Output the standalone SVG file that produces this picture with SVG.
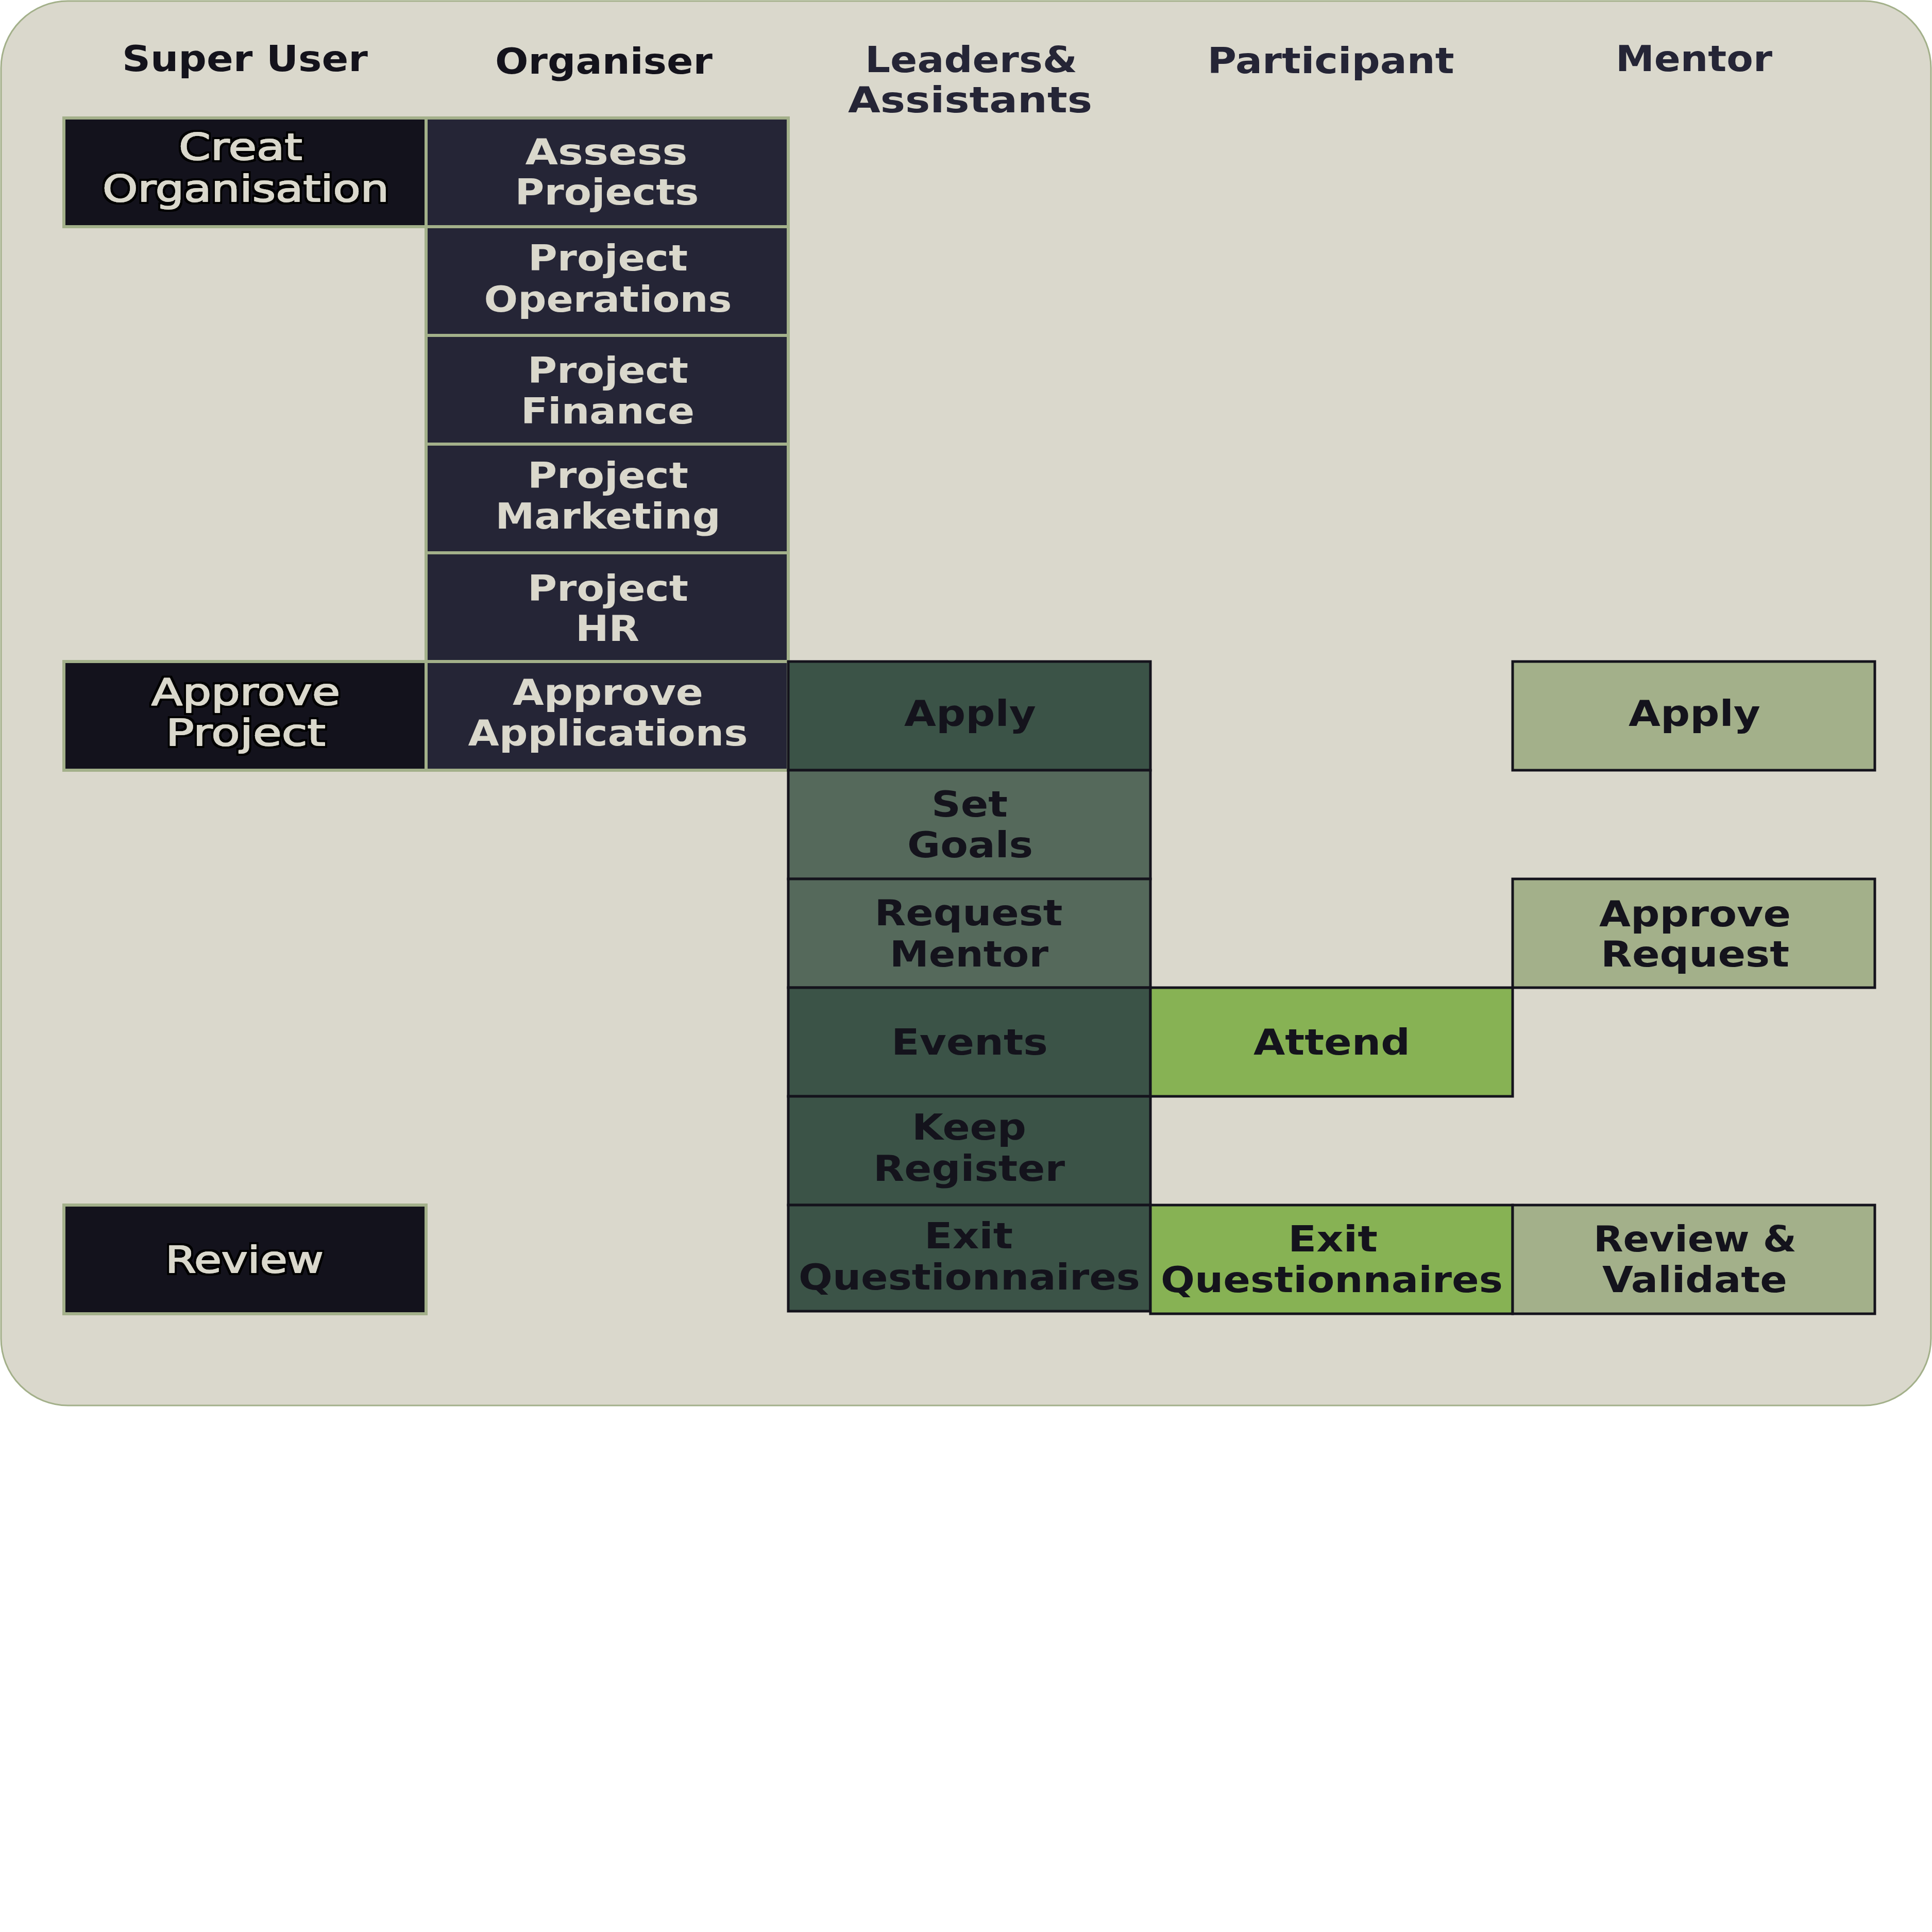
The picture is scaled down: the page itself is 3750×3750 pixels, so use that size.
<svg xmlns="http://www.w3.org/2000/svg" width="3750" height="3750" viewBox="0 0 3750 3750">
<style>
.hd{font-family:"DejaVu Sans","Liberation Sans",sans-serif;font-weight:bold;font-size:70px;text-anchor:middle}
.t{font-family:"DejaVu Sans","Liberation Sans",sans-serif;font-size:70px;text-anchor:middle}
.b{font-weight:bold}
.lt{fill:#dad8cc}
.dk{fill:#14131c}
.su{fill:#13121c;stroke:#a3b08a;stroke-width:6}
.org{fill:#252536;stroke:#a3b08a;stroke-width:6}
.ld{fill:#3b5347;stroke:#14131c;stroke-width:5}
.ld2{fill:#55695b;stroke:#14131c;stroke-width:5}
.pt{fill:#87b254;stroke:#14131c;stroke-width:5}
.mt{fill:#a3b08a;stroke:#14131c;stroke-width:5}
.sut{font-family:"DejaVu Sans","Liberation Sans",sans-serif;font-size:71px;text-anchor:middle;fill:#dad8cc;stroke:#dad8cc;stroke-width:1.8;stroke-linejoin:round;filter:url(#outline)}
</style>
<defs>
<filter id="outline" x="-10%" y="-30%" width="120%" height="160%">
<feMorphology in="SourceAlpha" operator="dilate" radius="4" result="d"/>
<feFlood flood-color="#000000" result="f"/>
<feComposite in="f" in2="d" operator="in" result="o"/>
<feMerge><feMergeNode in="o"/><feMergeNode in="SourceGraphic"/></feMerge>
</filter>
</defs>
<rect x="0" y="0" width="3750" height="3750" fill="#ffffff"/>
<rect id="background" x="2" y="2" width="3746" height="2726" rx="130" ry="130" fill="#dad8cc" stroke="#a3b08a" stroke-width="3"/>
<g id="headers">
<text class="hd" x="475.5" y="138" fill="#14131c" textLength="477" lengthAdjust="spacingAndGlyphs">Super User</text>
<text class="hd" x="1172" y="143" fill="#14131c" textLength="422" lengthAdjust="spacingAndGlyphs">Organiser</text>
<text class="hd" x="1885" y="140" fill="#252536" textLength="412" lengthAdjust="spacingAndGlyphs">Leaders&amp;</text>
<text class="hd" x="1883" y="218" fill="#252536" textLength="474" lengthAdjust="spacingAndGlyphs">Assistants</text>
<text class="hd" x="2583" y="142" fill="#252536" textLength="479" lengthAdjust="spacingAndGlyphs">Participant</text>
<text class="hd" x="3288" y="138" fill="#252536" textLength="304" lengthAdjust="spacingAndGlyphs">Mentor</text>
</g>
<g id="connectors"></g>
<g id="su-create">
<rect class="su" x="124" y="229" width="703" height="211"/>
<text class="sut" x="467" y="310" textLength="240" lengthAdjust="spacingAndGlyphs">Creat</text>
<text class="sut" x="477" y="391" textLength="556" lengthAdjust="spacingAndGlyphs">Organisation</text>
</g>
<g id="org-assess">
<rect class="org" x="827" y="229" width="703" height="211"/>
<text class="t b lt" x="1177" y="319" textLength="315" lengthAdjust="spacingAndGlyphs">Assess</text>
<text class="t b lt" x="1178" y="397" textLength="357" lengthAdjust="spacingAndGlyphs">Projects</text>
</g>
<g id="org-operations">
<rect class="org" x="827" y="440" width="703" height="211"/>
<text class="t b lt" x="1180" y="525" textLength="310" lengthAdjust="spacingAndGlyphs">Project</text>
<text class="t b lt" x="1180" y="605" textLength="481" lengthAdjust="spacingAndGlyphs">Operations</text>
</g>
<g id="org-finance">
<rect class="org" x="827" y="651" width="703" height="211"/>
<text class="t b lt" x="1180" y="743" textLength="312" lengthAdjust="spacingAndGlyphs">Project</text>
<text class="t b lt" x="1179.5" y="822" textLength="337" lengthAdjust="spacingAndGlyphs">Finance</text>
</g>
<g id="org-marketing">
<rect class="org" x="827" y="862" width="703" height="211"/>
<text class="t b lt" x="1180" y="947" textLength="312" lengthAdjust="spacingAndGlyphs">Project</text>
<text class="t b lt" x="1180" y="1026" textLength="437" lengthAdjust="spacingAndGlyphs">Marketing</text>
</g>
<g id="org-hr">
<rect class="org" x="827" y="1073" width="703" height="211"/>
<text class="t b lt" x="1180" y="1166" textLength="312" lengthAdjust="spacingAndGlyphs">Project</text>
<text class="t b lt" x="1179" y="1244" textLength="124" lengthAdjust="spacingAndGlyphs">HR</text>
</g>
<g id="su-approve">
<rect class="su" x="124" y="1284" width="703" height="211"/>
<text class="sut" x="477" y="1368" textLength="366" lengthAdjust="spacingAndGlyphs">Approve</text>
<text class="sut" x="477" y="1447" textLength="310" lengthAdjust="spacingAndGlyphs">Project</text>
</g>
<g id="org-approve">
<rect class="org" x="827" y="1284" width="703" height="211"/>
<text class="t b lt" x="1180" y="1368" textLength="370" lengthAdjust="spacingAndGlyphs">Approve</text>
<text class="t b lt" x="1180" y="1447" textLength="543" lengthAdjust="spacingAndGlyphs">Applications</text>
</g>
<g id="su-review">
<rect class="su" x="124" y="2339" width="703" height="211"/>
<text class="sut" x="474.5" y="2470" textLength="307" lengthAdjust="spacingAndGlyphs">Review</text>
</g>
<g id="ld-apply">
<rect class="ld" x="1530" y="1284" width="703" height="211"/>
<text class="t b dk" x="1883" y="1409" textLength="256" lengthAdjust="spacingAndGlyphs">Apply</text>
</g>
<g id="ld-goals">
<rect class="ld2" x="1530" y="1495" width="703" height="211"/>
<text class="t b dk" x="1882" y="1585" textLength="148" lengthAdjust="spacingAndGlyphs">Set</text>
<text class="t b dk" x="1883" y="1664" textLength="244" lengthAdjust="spacingAndGlyphs">Goals</text>
</g>
<g id="ld-request">
<rect class="ld2" x="1530" y="1706" width="703" height="211"/>
<text class="t b dk" x="1880" y="1796" textLength="365" lengthAdjust="spacingAndGlyphs">Request</text>
<text class="t b dk" x="1881" y="1876" textLength="308" lengthAdjust="spacingAndGlyphs">Mentor</text>
</g>
<g id="ld-events">
<rect class="ld" x="1530" y="1917" width="703" height="211"/>
<text class="t b dk" x="1882" y="2047" textLength="304" lengthAdjust="spacingAndGlyphs">Events</text>
</g>
<g id="ld-register">
<rect class="ld" x="1530" y="2128" width="703" height="211"/>
<text class="t b dk" x="1881" y="2212" textLength="222" lengthAdjust="spacingAndGlyphs">Keep</text>
<text class="t b dk" x="1881" y="2292" textLength="372" lengthAdjust="spacingAndGlyphs">Register</text>
</g>
<g id="ld-exit">
<rect class="ld" x="1530" y="2339" width="703" height="206"/>
<text class="t b dk" x="1880" y="2423" textLength="172" lengthAdjust="spacingAndGlyphs">Exit</text>
<text class="t b dk" x="1881.5" y="2503" textLength="663" lengthAdjust="spacingAndGlyphs">Questionnaires</text>
</g>
<g id="pt-attend">
<rect class="pt" x="2233" y="1917" width="703" height="211"/>
<text class="t b dk" x="2585" y="2047" textLength="304" lengthAdjust="spacingAndGlyphs">Attend</text>
</g>
<g id="pt-exit">
<rect class="pt" x="2233" y="2339" width="703" height="211"/>
<text class="t b dk" x="2587" y="2429" textLength="174" lengthAdjust="spacingAndGlyphs">Exit</text>
<text class="t b dk" x="2585" y="2508" textLength="664" lengthAdjust="spacingAndGlyphs">Questionnaires</text>
</g>
<g id="mt-apply">
<rect class="mt" x="2936" y="1284" width="703" height="211"/>
<text class="t b dk" x="3289" y="1409" textLength="256" lengthAdjust="spacingAndGlyphs">Apply</text>
</g>
<g id="mt-approve">
<rect class="mt" x="2936" y="1706" width="703" height="211"/>
<text class="t b dk" x="3290" y="1798" textLength="372" lengthAdjust="spacingAndGlyphs">Approve</text>
<text class="t b dk" x="3290" y="1876" textLength="366" lengthAdjust="spacingAndGlyphs">Request</text>
</g>
<g id="mt-review">
<rect class="mt" x="2936" y="2339" width="703" height="211"/>
<text class="t b dk" x="3290" y="2429" textLength="394" lengthAdjust="spacingAndGlyphs">Review &amp;</text>
<text class="t b dk" x="3289.5" y="2508" textLength="359" lengthAdjust="spacingAndGlyphs">Validate</text>
</g>
</svg>
